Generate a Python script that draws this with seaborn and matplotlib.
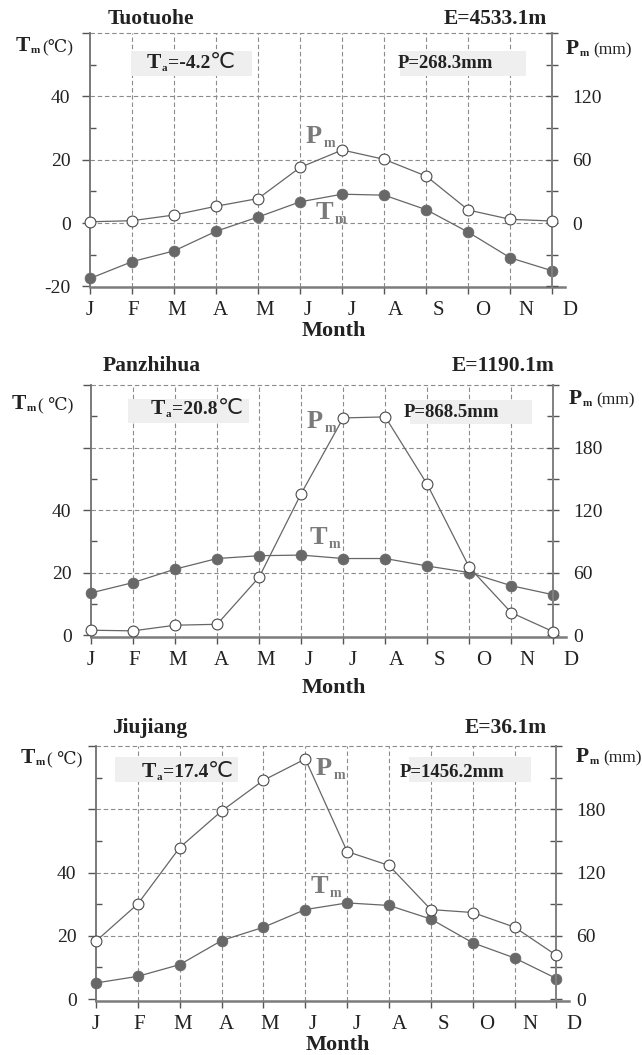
import matplotlib
matplotlib.use("Agg")
import matplotlib.pyplot as plt
import numpy as np
import pandas as pd
import seaborn as sns
from matplotlib.patches import Rectangle
from matplotlib.transforms import ScaledTranslation
from matplotlib.ticker import FixedLocator, FixedFormatter

# ---------------- data ----------------
months = ['J', 'F', 'M', 'A', 'M', 'J', 'J', 'A', 'S', 'O', 'N', 'D']
stations = ['Tuotuohe', 'Panzhihua', 'Jiujiang']
elevations = ['E=4533.1m', 'E=1190.1m', 'E=36.1m']
annual_temp = ['=-4.2', '=20.8', '=17.4']
annual_precip = ['P=268.3mm', 'P=868.5mm', 'P=1456.2mm']
temp_unit_labels = ['(℃)', '( ℃)', '( ℃)']

tm_tuotuohe = [-17.5, -12.2, -8.8, -2.6, 1.9, 6.7, 9.1, 8.8, 4.2, -2.9, -11.0, -15.1]
pm_tuotuohe = [1.2, 2.2, 7.6, 15.9, 23.2, 52.7, 69.2, 60.3, 44.4, 12.3, 3.5, 1.9]

tm_panzhihua = [13.5, 16.8, 21.1, 24.5, 25.4, 25.6, 24.5, 24.5, 22.1, 20.0, 15.8, 12.9]
pm_panzhihua = [4.7, 4.1, 9.5, 10.4, 55.6, 135.8, 208.4, 209.4, 144.6, 65.0, 21.5, 3.2]

tm_jiujiang = [5.1, 7.2, 10.9, 18.5, 22.7, 28.3, 30.4, 29.6, 25.3, 17.8, 13.0, 6.5]
pm_jiujiang = [55.0, 90.3, 143.7, 178.3, 207.5, 227.7, 139.9, 126.7, 84.9, 82.1, 68.2, 41.5]

tm_series = [tm_tuotuohe, tm_panzhihua, tm_jiujiang]
pm_series = [pm_tuotuohe, pm_panzhihua, pm_jiujiang]

# ---------------- style ----------------
sns.set_style("ticks")
plt.rcParams['font.family'] = ['Liberation Serif', 'DejaVu Serif']
plt.rcParams['mathtext.fontset'] = 'custom'
plt.rcParams['mathtext.rm'] = 'Liberation Serif'
plt.rcParams['mathtext.bf'] = 'Liberation Serif:bold'

TXT = '#222222'
SPINE = '#707070'
GRID = '#8c8c8c'
LINE = '#666666'
DOT = '#686868'
LABELGRAY = '#7a7a7a'
BOXC = '#efefef'

W, H = 642, 1055
fig = plt.figure(figsize=(W / 100, H / 100), dpi=100)
renderer = fig.canvas.get_renderer()


def fx(x):
    return x / W


def fy(y):
    return 1 - y / H


def run_text(x, y, parts):
    """Draw consecutive text pieces on a common baseline (pixel coords, top-left origin)."""
    for s, size, weight, color, family, dy, gap in parts:
        kw = dict(fontsize=size, fontweight=weight, color=color, ha='left', va='baseline')
        if family is not None:
            kw['family'] = family
        t = fig.text(fx(x), fy(y + dy), s, **kw)
        bb = t.get_window_extent(renderer)
        x = bb.x1 + gap


# layout per panel (pixel positions in the figure)
layouts = [
    dict(box=(90, 33, 565, 287), ylim=(-20.2, 60),
         lmaj=[-20, 0, 20, 40, 60], llab=['-20', '0', '20', '40', ''],
         rmaj=[0, 60, 120, 180], rlab=['0', '60', '120', ''],
         title=(108, 19), elev=(547, 19), tlab=(16, 51), plab=(566, 54),
         tabox=(131, 51, 252, 76), tatxt=(147, 68),
         pbox=(400, 51, 526, 76), ptxt=(398, 68),
         pm_ann=(306, 143), tm_ann=(316, 219), month=(334, 331)),
    dict(box=(91, 385, 566, 637), ylim=(-0.6, 80),
         lmaj=[0, 20, 40, 60, 80], llab=['0', '20', '40', '', ''],
         rmaj=[0, 60, 120, 180, 240], rlab=['0', '60', '120', '180', ''],
         title=(103, 366), elev=(554, 366), tlab=(12, 409), plab=(569, 404),
         tabox=(128, 399, 249, 423), tatxt=(151, 414),
         pbox=(410, 400, 532, 424), ptxt=(404, 417),
         pm_ann=(307, 428), tm_ann=(310, 544), month=(334, 688)),
    dict(box=(96, 746, 569, 1001), ylim=(-0.6, 80),
         lmaj=[0, 20, 40, 60, 80], llab=['0', '20', '40', '', ''],
         rmaj=[0, 60, 120, 180, 240], rlab=['0', '60', '120', '180', ''],
         title=(112, 728), elev=(547, 728), tlab=(21, 763), plab=(576, 762),
         tabox=(115, 757, 238, 782), tatxt=(142, 777),
         pbox=(409, 757, 531, 782), ptxt=(400, 777),
         pm_ann=(316, 775), tm_ann=(311, 893), month=(338, 1045)),
]

for i, lay in enumerate(layouts):
    x0, y0, x1, y1 = lay['box']
    ax = fig.add_axes([fx(x0), fy(y1), (x1 - x0) / W, (y1 - y0) / H])
    ax2 = ax.twinx()

    df = pd.DataFrame({'month': np.arange(12), 'Tm': tm_series[i], 'Pm': pm_series[i]})

    lo, hi = lay['ylim']
    ax.set_xlim(0, 11.3)
    ax.set_ylim(lo, hi)
    ax2.set_ylim(lo * 3, hi * 3)

    # dashed grid
    for yv in lay['lmaj']:
        if yv - lo > 1:
            ax.hlines(yv, 0, 11, colors=GRID, linestyles=(0, (4, 2.5)), lw=0.8,
                      zorder=0.5, clip_on=False)
    ax.vlines(np.arange(1, 11), lo, hi, colors=GRID, linestyles=(0, (4, 2.5)),
              lw=0.8, zorder=0.5)

    sns.lineplot(data=df, x='month', y='Tm', ax=ax, color=LINE, lw=0.9,
                 marker='o', markersize=7.8, markerfacecolor=DOT,
                 markeredgecolor=DOT, markeredgewidth=0.5, clip_on=False, zorder=3)
    sns.lineplot(data=df, x='month', y='Pm', ax=ax2, color=LINE, lw=0.9,
                 marker='o', markersize=7.8, markerfacecolor='white',
                 markeredgecolor='#4a4a4a', markeredgewidth=0.8, clip_on=False, zorder=3)

    ax.set_xlabel('')
    ax.set_ylabel('')
    ax2.set_ylabel('')

    # spines
    for a in (ax, ax2):
        a.spines['top'].set_visible(False)
    ax.spines['right'].set_visible(False)
    ax2.spines['left'].set_visible(False)
    ax2.spines['bottom'].set_visible(False)
    ax.spines['left'].set_color(SPINE)
    ax.spines['left'].set_linewidth(1.3)
    ax.spines['bottom'].set_color('#7c7c7c')
    ax.spines['bottom'].set_linewidth(1.8)
    ax2.spines['right'].set_position(('data', 11))
    ax2.spines['right'].set_color('#808080')
    ax2.spines['right'].set_linewidth(1.4)

    # x ticks
    ax.set_xticks(np.arange(12))
    ax.set_xticklabels(months)
    ax.tick_params(axis='x', direction='out', length=5, width=1.0, color='#555555',
                   labelsize=15, labelcolor=TXT, pad=5)
    for k, lbl in enumerate(ax.get_xticklabels()):
        lbl.set_transform(lbl.get_transform() +
                          ScaledTranslation(k * 1.55 / 100, 0, fig.dpi_scale_trans))

    # left y ticks
    ax.yaxis.set_major_locator(FixedLocator(lay['lmaj']))
    ax.yaxis.set_major_formatter(FixedFormatter(lay['llab']))
    lminor = [v for v in np.arange(-20, 81, 10) if lo <= v <= hi and v not in lay['lmaj']]
    ax.yaxis.set_minor_locator(FixedLocator(lminor))
    ax.tick_params(axis='y', which='major', direction='out', length=6, width=1.0,
                   color='#555555', labelsize=14, labelcolor=TXT, pad=8)
    ax.tick_params(axis='y', which='minor', direction='in', length=4, width=1.0,
                   color='#555555')

    # right y ticks
    ax2.yaxis.set_major_locator(FixedLocator(lay['rmaj']))
    ax2.yaxis.set_major_formatter(FixedFormatter(lay['rlab']))
    rminor = [v for v in np.arange(-60, 241, 30) if 3 * lo <= v <= 3 * hi and v not in lay['rmaj']]
    ax2.yaxis.set_minor_locator(FixedLocator(rminor))
    ax2.tick_params(axis='y', which='major', direction='inout', length=8, width=1.0,
                    color='#555555', labelsize=14, labelcolor=TXT, pad=10)
    ax2.tick_params(axis='y', which='minor', direction='inout', length=8, width=1.0,
                    color='#555555')

    # headers
    fig.text(fx(lay['title'][0]), fy(lay['title'][1]), stations[i], fontsize=15.5,
             fontweight='bold', color=TXT, ha='left', va='center')
    fig.text(fx(lay['elev'][0]), fy(lay['elev'][1]), elevations[i], fontsize=15.5,
             fontweight='bold', color=TXT, ha='right', va='center')

    # axis titles
    run_text(lay['tlab'][0], lay['tlab'][1], [
        ('T', 15.5, 'bold', TXT, None, 0, 0.5),
        ('m', 8, 'bold', TXT, None, 2, 2),
        (temp_unit_labels[i], 12.5, 'normal', TXT, None, 0, 0)])
    run_text(lay['plab'][0], lay['plab'][1], [
        ('P', 15.5, 'bold', TXT, None, 0, 0.5),
        ('m', 8, 'bold', TXT, None, 2, 4),
        ('(mm)', 12.5, 'normal', TXT, None, 0, 0)])

    # boxes
    bx0, by0, bx1, by1 = lay['tabox']
    fig.patches.append(Rectangle((fx(bx0), fy(by1)), (bx1 - bx0) / W, (by1 - by0) / H,
                                 transform=fig.transFigure, facecolor=BOXC,
                                 edgecolor='none', zorder=0))
    run_text(lay['tatxt'][0], lay['tatxt'][1], [
        ('T', 15.5, 'bold', TXT, None, 0, 0.5),
        ('a', 8, 'bold', TXT, None, 3, 0.5),
        (annual_temp[i], 14, 'bold', TXT, None, 0, 0),
        ('℃', 16, 'normal', TXT, 'DejaVu Sans', 0, 0)])
    bx0, by0, bx1, by1 = lay['pbox']
    fig.patches.append(Rectangle((fx(bx0), fy(by1)), (bx1 - bx0) / W, (by1 - by0) / H,
                                 transform=fig.transFigure, facecolor=BOXC,
                                 edgecolor='none', zorder=0))
    fig.text(fx(lay['ptxt'][0]), fy(lay['ptxt'][1]), annual_precip[i],
             fontsize=13.5, fontweight='bold', color=TXT, ha='left', va='baseline')

    # series labels
    run_text(lay['pm_ann'][0], lay['pm_ann'][1], [
        ('P', 19, 'bold', LABELGRAY, None, 0, 1),
        ('m', 10, 'bold', LABELGRAY, None, 4, 0)])
    run_text(lay['tm_ann'][0], lay['tm_ann'][1], [
        ('T', 19, 'bold', LABELGRAY, None, 0, 1),
        ('m', 10, 'bold', LABELGRAY, None, 4, 0)])

    fig.text(fx(lay['month'][0]), fy(lay['month'][1]), 'Month', fontsize=16,
             fontweight='bold', color=TXT, ha='center', va='center')

fig.savefig('out.png', dpi=100)
